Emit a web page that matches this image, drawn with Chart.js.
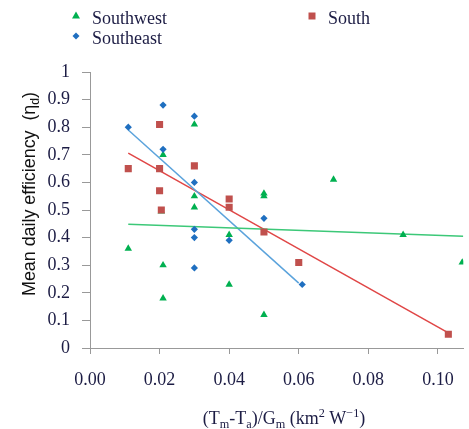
<!DOCTYPE html>
<html>
<head>
<meta charset="utf-8">
<script src="https://cdn.jsdelivr.net/npm/chart.js@4"></script>
<style>
  html, body { margin: 0; padding: 0; background: #fff; overflow: hidden; }
  #box { width: 469px; height: 429px; }
</style>
</head>
<body>
<div id="box"><canvas id="grafico" width="469" height="429"></canvas></div>
<script>
// valores
const swX = [0.011, 0.021, 0.0205, 0.021, 0.021, 0.030, 0.030, 0.030, 0.040, 0.040, 0.050, 0.050, 0.050, 0.070, 0.090, 0.107];
const swY = [0.36, 0.70, 0.495, 0.30, 0.18, 0.81, 0.55, 0.51, 0.41, 0.23, 0.56, 0.55, 0.12, 0.61, 0.41, 0.31];
const seX = [0.011, 0.021, 0.021, 0.030, 0.030, 0.030, 0.030, 0.030, 0.040, 0.050, 0.061];
const seY = [0.80, 0.88, 0.72, 0.84, 0.60, 0.43, 0.40, 0.29, 0.39, 0.47, 0.23];
const sX = [0.011, 0.020, 0.020, 0.020, 0.0205, 0.030, 0.040, 0.040, 0.050, 0.060, 0.103];
const sY = [0.65, 0.81, 0.65, 0.57, 0.50, 0.66, 0.54, 0.51, 0.42, 0.31, 0.05];

// linhas de tendencia (extremos)
const swFitX = [0.011, 0.1073];
const swFitY = [0.448, 0.405];
const seFitX = [0.011, 0.060];
const seFitY = [0.79, 0.235];
const sFitX = [0.011, 0.103];
const sFitY = [0.706, 0.055];

const xTicks = [0, 0.02, 0.04, 0.06, 0.08, 0.10];

const corTexto = '#1c1c44';
const fonteSerif = '"Liberation Serif", "Times New Roman", serif';

function pontos(xs, ys) {
    return xs.map((x, i) => ({ x: x, y: ys[i] }));
}

const legenda = [
    { nome: 'Southwest', forma: 'triangle', cor: '#00b050', x: 76, y: 16 },
    { nome: 'Southeast', forma: 'diamond', cor: '#1f6fc0', x: 76, y: 36 },
    { nome: 'South', forma: 'square', cor: '#c0504d', x: 312, y: 16 }
];

function desenharMarca(ctx, forma, x, y, cor) {
    ctx.fillStyle = cor;
    ctx.beginPath();
    if (forma === 'triangle') {
        ctx.moveTo(x, y - 4.5);
        ctx.lineTo(x + 4, y + 2.5);
        ctx.lineTo(x - 4, y + 2.5);
    } else if (forma === 'diamond') {
        ctx.moveTo(x, y - 3.5);
        ctx.lineTo(x + 3.5, y);
        ctx.lineTo(x, y + 3.5);
        ctx.lineTo(x - 3.5, y);
    } else {
        ctx.rect(x - 3.5, y - 3.5, 7, 7);
    }
    ctx.closePath();
    ctx.fill();
}

// escreve partes com sub/sobrescrito, retorna largura
function escreverPartes(ctx, partes, x, y, tam, familia, medir) {
    let cx = x;
    partes.forEach((p) => {
        const t = p.tipo ? tam * 0.68 : tam;
        ctx.font = t + 'px ' + familia;
        let dy = 0;
        if (p.tipo === 'sub') dy = tam * 0.22;
        if (p.tipo === 'sup') dy = -tam * 0.38;
        if (!medir) ctx.fillText(p.t, cx, y + dy);
        cx += ctx.measureText(p.t).width;
    });
    return cx - x;
}

const plugLegendaTitulos = {
    id: 'legendaTitulos',
    afterDraw(chart) {
        const ctx = chart.ctx;
        ctx.save();
        legenda.forEach((item) => {
            desenharMarca(ctx, item.forma, item.x, item.y, item.cor);
            ctx.fillStyle = corTexto;
            ctx.font = '18px ' + fonteSerif;
            ctx.textBaseline = 'alphabetic';
            ctx.textAlign = 'left';
            ctx.fillText(item.nome, item.x + 16, item.y + 8);
        });

        // titulo eixo x
        const partesX = [
            { t: '(T' }, { t: 'm', tipo: 'sub' }, { t: '-T' }, { t: 'a', tipo: 'sub' },
            { t: ')/G' }, { t: 'm', tipo: 'sub' }, { t: ' (km' }, { t: '2', tipo: 'sup' },
            { t: ' W' }, { t: '\u22121', tipo: 'sup' }, { t: ')' }
        ];
        ctx.fillStyle = corTexto;
        const largX = escreverPartes(ctx, partesX, 0, 0, 18, fonteSerif, true);
        escreverPartes(ctx, partesX, 284 - largX / 2, 424, 18, fonteSerif, false);

        // titulo eixo y
        const partesY = [{ t: 'Mean daily efficiency  (\u03b7' }, { t: 'd', tipo: 'sub' }, { t: ')' }];
        const fonteSans = '"Liberation Sans", Arial, sans-serif';
        const largY = escreverPartes(ctx, partesY, 0, 0, 18, fonteSans, true);
        ctx.translate(35, 194);
        ctx.rotate(-Math.PI / 2);
        ctx.scale(204 / largY, 1);
        ctx.fillStyle = '#111';
        escreverPartes(ctx, partesY, -largY / 2, 0, 18, fonteSans, false);
        ctx.restore();
    }
};

const ctx = document.getElementById('grafico');

new Chart(ctx, {
    type: 'scatter',
    data: {
        datasets: [
            {
                label: 'South',
                data: pontos(sX, sY),
                pointStyle: 'rect',
                pointRadius: 5,
                backgroundColor: '#c0504d',
                borderColor: '#c0504d',
                borderWidth: 0
            },
            {
                label: 'Southeast',
                data: pontos(seX, seY),
                pointStyle: 'rectRot',
                pointRadius: 3.6,
                backgroundColor: '#1f6fc0',
                borderColor: '#1f6fc0',
                borderWidth: 0
            },
            {
                label: 'Southwest',
                data: pontos(swX, swY),
                pointStyle: 'triangle',
                pointRadius: 4.3,
                backgroundColor: '#00b050',
                borderColor: '#00b050',
                borderWidth: 0
            },
            {
                label: 'fitSW',
                data: pontos(swFitX, swFitY),
                showLine: true,
                pointRadius: 0,
                borderColor: '#3cc878',
                borderWidth: 1.5
            },
            {
                label: 'fitSE',
                data: pontos(seFitX, seFitY),
                showLine: true,
                pointRadius: 0,
                borderColor: '#5ba3dc',
                borderWidth: 1.5
            },
            {
                label: 'fitS',
                data: pontos(sFitX, sFitY),
                showLine: true,
                pointRadius: 0,
                borderColor: '#e04646',
                borderWidth: 1.5
            }
        ]
    },
    plugins: [plugLegendaTitulos],
    options: {
        responsive: false,
        animation: false,
        events: [],
        layout: { padding: { top: 72, right: 0, bottom: 0, left: 0 } },
        plugins: {
            legend: { display: false },
            tooltip: { enabled: false }
        },
        scales: {
            x: {
                type: 'linear',
                min: 0,
                max: 0.1073,
                afterBuildTicks: (scale) => {
                    scale.ticks = xTicks.map((v) => ({ value: v }));
                },
                afterFit: (scale) => { scale.height = 81; },
                grid: {
                    drawOnChartArea: false,
                    tickLength: 6,
                    tickColor: '#999',
                    color: '#999'
                },
                border: { color: '#999', width: 1 },
                ticks: {
                    padding: 15,
                    color: corTexto,
                    font: { family: fonteSerif, size: 18 },
                    maxRotation: 0,
                    callback: (v) => Number(v).toFixed(2)
                }
            },
            y: {
                min: 0,
                max: 1,
                afterFit: (scale) => { scale.width = 90; },
                grid: {
                    drawOnChartArea: false,
                    tickLength: 8,
                    tickColor: '#999',
                    color: '#999'
                },
                border: { color: '#999', width: 1 },
                ticks: {
                    stepSize: 0.1,
                    padding: 12,
                    color: corTexto,
                    font: { family: fonteSerif, size: 18 },
                    callback: (v) => (v === 0 || v === 1) ? String(v) : Number(v).toFixed(1)
                }
            }
        }
    }
});
</script>
</body>
</html>
